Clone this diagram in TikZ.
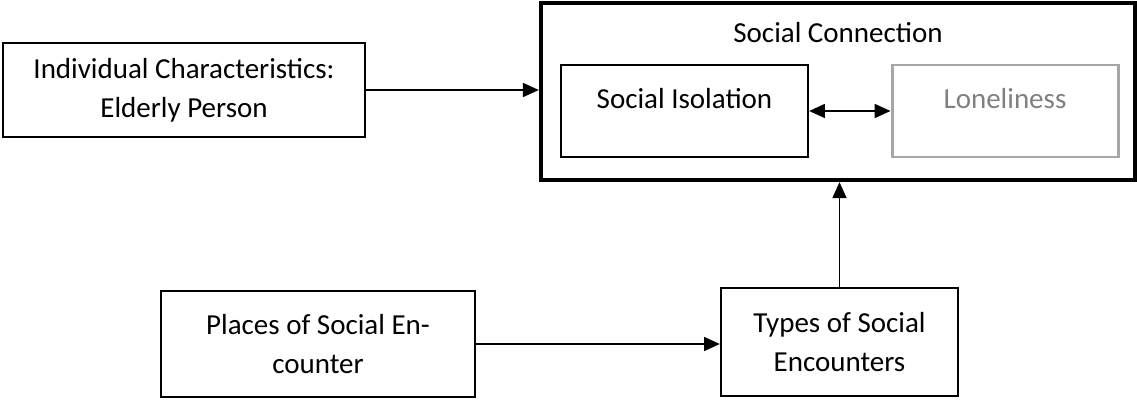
\documentclass[tikz,border=0pt]{standalone}
\usepackage{fontspec}
\setmainfont{Carlito}
\usetikzlibrary{shapes, arrows, arrows.meta, calc, positioning, fit}
\definecolor{lonelygrey}{rgb}{0.65, 0.65, 0.65}
\definecolor{lonelytext}{rgb}{0.5, 0.5, 0.5}
\tikzset{
    factorbox/.style = {draw, line width=1.3pt, align=center, inner sep=0pt},
    link/.style = {line width=0.7pt, -{Triangle[length=9pt, width=8pt]}},
    twolink/.style = {line width=0.7pt, {Triangle[length=9pt, width=8pt]}-{Triangle[length=9pt, width=8pt]}}
}

\begin{document}
\begin{tikzpicture}
    \useasboundingbox (0,0) rectangle (22.74,-8.0);
    \begin{scope}[every node/.style = {font=\fontsize{16.5}{22}\selectfont}]
        % outer frame and its title
        \node[draw, line width=2.5pt, minimum width=11.88cm, minimum height=3.54cm] (SC) at (16.76,-1.83) {};
        \node[anchor=center] (SCtitle) at (16.76,-0.66) {Social Connection};
        % inner pair
        \node[factorbox, minimum width=4.94cm, minimum height=1.84cm, text depth=0.5cm] (ISO) at (13.69,-2.22) {Social Isolation};
        \node[factorbox, draw=lonelygrey, line width=1.7pt, text=lonelytext, minimum width=4.52cm, minimum height=1.84cm, text depth=0.5cm] (LON) at (20.10,-2.22) {Loneliness};
        % outside factors
        \node[factorbox, minimum width=7.24cm, minimum height=1.88cm] (IND) at (3.68,-1.80) {Individual Characteristics:\\Elderly Person};
        \node[factorbox, minimum width=6.28cm, minimum height=2.12cm] (PLC) at (6.36,-6.88) {Places of Social En-\\counter};
        \node[factorbox, minimum width=4.74cm, minimum height=2.16cm] (TYP) at (16.79,-6.84) {Types of Social\\Encounters};
        \draw[link] (IND.east) -- (IND.east -| SC.west);
        \draw[twolink] (ISO.east) -- (LON.west);
        \draw[link] (PLC.east) -- (PLC.east -| TYP.west);
        \draw[link] (TYP.north) -- (TYP.north |- SC.south);
    \end{scope}
\end{tikzpicture}
\end{document}
